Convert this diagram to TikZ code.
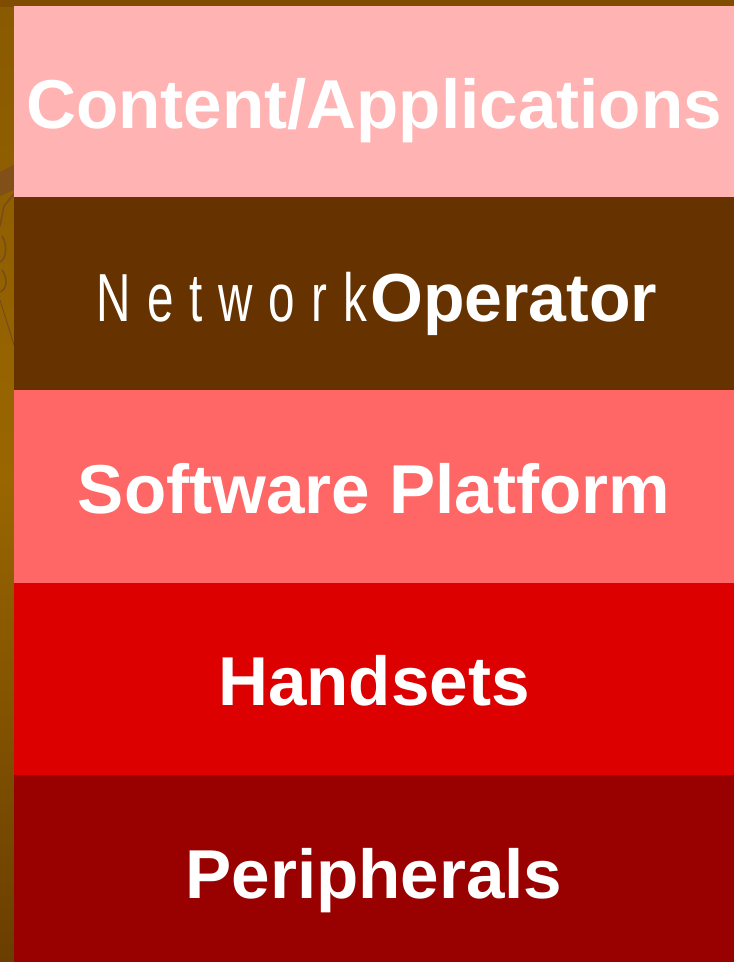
\documentclass[tikz,border=0pt]{standalone}
\usepackage{fontspec}
\setmainfont{Liberation Sans}
\definecolor{topbar}{HTML}{7F4C00}
\definecolor{stripA}{HTML}{8A5A00}
\definecolor{stripB}{HTML}{996600}
\definecolor{stripC}{HTML}{6A3E00}
\definecolor{bandA}{HTML}{FFB3B3}
\definecolor{bandB}{HTML}{663300}
\definecolor{bandC}{HTML}{FF6666}
\definecolor{bandD}{HTML}{DD0000}
\definecolor{bandE}{HTML}{990000}
\definecolor{decor}{HTML}{7A4A1E}
\tikzset{
  band/.style={draw=none, inner sep=0pt, anchor=north west, minimum width=720pt},
  label/.style={text=white, font=\fontsize{69.2}{71}\selectfont\bfseries, anchor=base, inner sep=0pt},
}
\begin{document}
\begin{tikzpicture}[x=1pt,y=-1pt]
\useasboundingbox (0,0) rectangle (734,962);
% background strips
\fill[topbar] (0,0) rectangle (734,7);
\shade[top color=stripA, bottom color=stripB] (0,7) rectangle (14,480);
\shade[top color=stripB, bottom color=stripC] (0,480) rectangle (14,962);
\fill[decor!80!stripB] (0,172) -- (14,165) -- (14,190) -- (0,196) -- cycle;
\draw[decor, line width=1.5pt] (14,194) -- (4,206) -- (0,226);
\draw[decor, line width=1.5pt] (2,236) .. controls (8,245) and (6,260) .. (0,262);
\draw[decor, line width=1.5pt] (2,270) .. controls (9,280) and (6,290) .. (0,292);
\draw[decor, line width=1pt] (0,300) -- (14,345);
% bands
\node[band, fill=bandA, minimum height=191pt] (b1) at (14,6) {};
\node[band, fill=bandB, minimum height=193pt] (b2) at (14,197) {};
\node[band, fill=bandC, minimum height=193pt] (b3) at (14,390) {};
\node[band, fill=bandD, minimum height=192pt] (b4) at (14,583) {};
\node[band, fill=bandE, minimum height=187pt] (b5) at (14,775) {};
% labels
\node[label] (t1) at (374,128) {Content/Applications};
\node[label] (t2) at (377,321) {{\mdseries\fontsize{68}{70}\selectfont\addfontfeature{FakeStretch=0.7,LetterSpace=23.5}Network}\hspace{3pt}\fontsize{68}{70}\selectfont Operator};
\node[label] (t3) at (374,513) {Software Platform};
\node[label] (t4) at (374,705) {Handsets};
\node[label] (t5) at (374,898) {Peripherals};
\end{tikzpicture}
\end{document}
